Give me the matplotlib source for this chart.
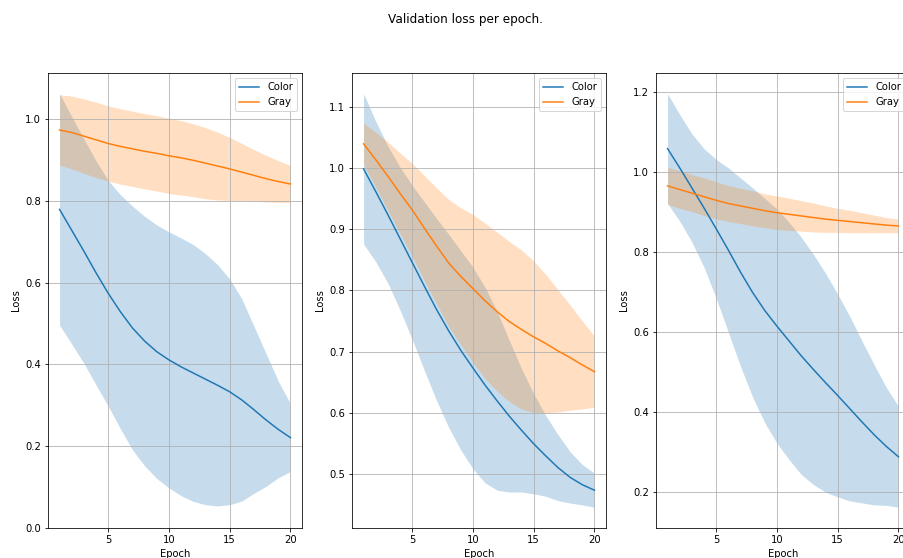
import numpy as np
import matplotlib
matplotlib.use("Agg")
import matplotlib.pyplot as plt

epochs = list(range(1, 21))

# Panel 1
c1_mean = [0.779, 0.728, 0.677, 0.624, 0.574, 0.529, 0.489, 0.457, 0.431, 0.411,
           0.394, 0.379, 0.364, 0.349, 0.333, 0.313, 0.289, 0.264, 0.241, 0.221]
c1_std = [0.283, 0.278, 0.274, 0.274, 0.276, 0.286, 0.298, 0.305, 0.310, 0.313,
          0.315, 0.314, 0.307, 0.295, 0.276, 0.247, 0.204, 0.162, 0.118, 0.083]
g1_mean = [0.973, 0.967, 0.958, 0.949, 0.940, 0.933, 0.927, 0.921, 0.916, 0.910,
           0.905, 0.899, 0.892, 0.885, 0.878, 0.870, 0.862, 0.854, 0.847, 0.841]
g1_std = [0.086, 0.089, 0.091, 0.092, 0.092, 0.092, 0.092, 0.092, 0.092, 0.092,
          0.091, 0.089, 0.087, 0.083, 0.077, 0.070, 0.063, 0.057, 0.051, 0.045]

# Panel 2
c2_mean = [0.999, 0.962, 0.924, 0.885, 0.846, 0.807, 0.769, 0.734, 0.702, 0.673,
           0.645, 0.619, 0.594, 0.571, 0.549, 0.529, 0.510, 0.494, 0.482, 0.473]
c2_std = [0.123, 0.115, 0.112, 0.117, 0.126, 0.138, 0.149, 0.158, 0.163, 0.165,
          0.160, 0.146, 0.124, 0.101, 0.082, 0.066, 0.054, 0.042, 0.033, 0.028]
g2_mean = [1.040, 1.014, 0.987, 0.959, 0.932, 0.902, 0.873, 0.845, 0.823, 0.803,
           0.783, 0.765, 0.749, 0.736, 0.724, 0.713, 0.701, 0.690, 0.678, 0.667]
g2_std = [0.034, 0.045, 0.056, 0.066, 0.076, 0.086, 0.095, 0.104, 0.112, 0.121,
          0.127, 0.130, 0.131, 0.130, 0.124, 0.113, 0.100, 0.086, 0.072, 0.058]

# Panel 3
c3_mean = [1.058, 1.010, 0.960, 0.910, 0.858, 0.805, 0.750, 0.699, 0.654, 0.615,
           0.578, 0.541, 0.507, 0.474, 0.442, 0.409, 0.376, 0.344, 0.315, 0.289]
c3_std = [0.137, 0.133, 0.135, 0.148, 0.173, 0.205, 0.235, 0.261, 0.280, 0.292,
          0.296, 0.296, 0.287, 0.273, 0.253, 0.230, 0.202, 0.175, 0.147, 0.126]
g3_mean = [0.965, 0.956, 0.947, 0.938, 0.929, 0.921, 0.915, 0.909, 0.903, 0.898,
           0.894, 0.890, 0.886, 0.882, 0.879, 0.876, 0.873, 0.870, 0.867, 0.865]
g3_std = [0.046, 0.047, 0.046, 0.047, 0.046, 0.045, 0.044, 0.044, 0.042, 0.042,
          0.040, 0.038, 0.036, 0.033, 0.030, 0.028, 0.025, 0.022, 0.019, 0.017]

panels = [
    (c1_mean, c1_std, g1_mean, g1_std),
    (c2_mean, c2_std, g2_mean, g2_std),
    (c3_mean, c3_std, g3_mean, g3_std),
]

W, H = 903, 558
DPI = 72
fig = plt.figure(figsize=(W / DPI, H / DPI), dpi=DPI)

lefts = [48, 352, 656]
ax_w, ax_top, ax_bot = 254, 73, 528

for i, (cm, cs, gm, gs) in enumerate(panels):
    ax = fig.add_axes([lefts[i] / W, (H - ax_bot) / H, ax_w / W, (ax_bot - ax_top) / H])
    x = np.array(epochs)
    cm, cs, gm, gs = map(np.array, (cm, cs, gm, gs))
    ax.plot(x, cm, color="C0", label="Color")
    ax.fill_between(x, cm - cs, cm + cs, color="C0", alpha=0.25, linewidth=0)
    ax.plot(x, gm, color="C1", label="Gray")
    ax.fill_between(x, gm - gs, gm + gs, color="C1", alpha=0.25, linewidth=0)
    ax.set_xlabel("Epoch")
    ax.set_ylabel("Loss")
    ax.grid(True)
    ax.legend(loc="upper right")
    ax.set_xticks([5, 10, 15, 20])
    if i == 0:
        ax.set_ylim(bottom=0)

fig.suptitle("Validation loss per epoch.", x=465 / W, y=0.976, fontsize=12)

fig.savefig("out.png", dpi=DPI)
